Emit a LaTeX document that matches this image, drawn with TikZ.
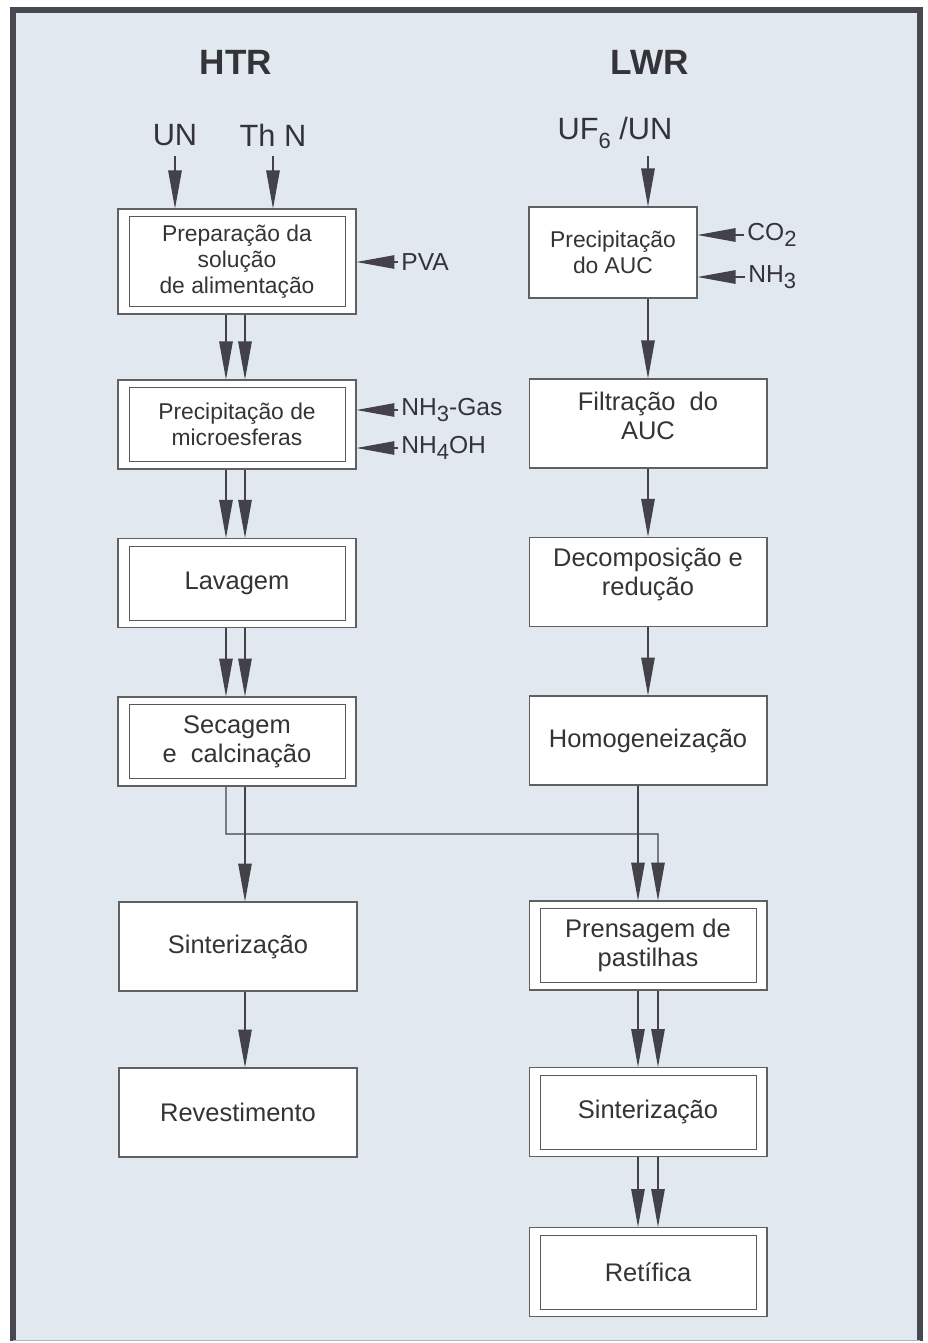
\documentclass[tikz,border=0pt]{standalone}
\usepackage{fontspec}
\setmainfont{Liberation Sans}
\usepackage{tikz}
\usetikzlibrary{calc, arrows.meta}
\definecolor{panel}{RGB}{225, 232, 240}
\definecolor{frameline}{RGB}{72, 72, 82}
\definecolor{ink}{RGB}{52, 52, 56}
\definecolor{wire}{RGB}{66, 66, 72}
\newcommand{\lowsub}[1]{\raisebox{-0.5ex}{\fontsize{12.5}{13}\selectfont #1}}

\begin{document}
\begin{tikzpicture}[x=0.02cm, y=-0.02cm,
  box/.style={draw=gray!75!black, line width=0.6pt, fill=white, minimum width=4.76cm,
    minimum height=1.78cm, align=center, text=ink, inner sep=0pt,
    font=\fontsize{14.5}{16.5}\selectfont},
  smallbox/.style={box, font=\fontsize{13}{15}\selectfont},
  inbox/.style={draw=gray!70!black, line width=0.5pt},
  flow/.style={draw=wire, line width=0.6pt, -{Triangle[length=0.76cm, width=0.27cm, fill=wire]}},
  title/.style={font=\fontsize{20}{22}\selectfont\bfseries, text=ink},
  feed/.style={font=\fontsize{17.5}{19}\selectfont, text=ink},
  agent/.style={font=\fontsize{14}{15}\selectfont, text=ink, anchor=west, inner sep=0pt}
]
  \useasboundingbox (0,0) rectangle (928,1343);
  % Panel
  \fill[panel] (13,10) rectangle (920,1340);
  \draw[frameline, line width=3pt] (13,1341) -- (13,10) -- (920,10) -- (920,1341);
  \draw[gray!60, line width=0.5pt] (13,1340) -- (920,1340);

  % Headings
  \node[title] (htr) at (236,62) {HTR};
  \node[title] (lwr) at (650,62) {LWR};
  \node[feed] (un) at (175,135) {UN};
  \node[feed] (thn) at (273,135) {Th N};
  \node[feed] (uf) at (615,133) {UF\lowsub{6} /UN};
  \coordinate (unin) at (175,156);
  \coordinate (thin) at (273,156);
  \coordinate (ufin) at (648,156);

  % HTR column
  \node[smallbox, minimum height=2.1cm] (prep) at (237,261.5) {Preparação da\\solução\\de alimentação};
  \node[smallbox] (micro) at (237,424.5) {Precipitação de\\microesferas};
  \node[box] (lav) at (237,583) {Lavagem};
  \node[box] (sec) at (237,741.5) {Secagem\\e\ \ calcinação};
  \node[box] (sinH) at (238,946.5) {Sinterização};
  \node[box] (rev) at (238,1112.5) {Revestimento};

  % LWR column
  \node[smallbox, minimum width=3.36cm, minimum height=1.82cm] (pauc) at (613,252.5) {Precipitação\\do AUC};
  \node[box] (filt) at (648,423.5) {Filtração\ \ do\\AUC\\[-8pt]\mbox{}};
  \node[box] (dec) at (648,582) {Decomposição e\\redução\\[-5pt]\mbox{}};
  \node[box] (homo) at (648,740.5) {Homogeneização};
  \node[box] (prens) at (648,945.5) {Prensagem de\\pastilhas};
  \node[box] (sinL) at (648,1112) {Sinterização};
  \node[box] (ret) at (648,1272) {Retífica};

  % Inner frames
  \foreach \b in {prep, micro, lav, sec, prens, sinL, ret} {
    \draw[inbox] ([shift={(12,8)}]\b.north west) rectangle ([shift={(-11,-8)}]\b.south east);
  }

  % Additives
  \node[agent] (pva) at (401,262) {PVA};
  \node[agent] (nhg) at (401,410) {NH\lowsub{3}-Gas};
  \node[agent] (nhoh) at (401,448) {NH\lowsub{4}OH};
  \node[agent] (co) at (747,235) {CO\lowsub{2}};
  \node[agent] (nh) at (748,277) {NH\lowsub{3}};
  \foreach \a/\b in {pva/prep, nhg/micro, nhoh/micro, co/pauc, nh/pauc} {
    \draw[flow] ([xshift=-0.06cm]\a.west) -- (\a.west -| \b.east);
  }

  % Feeds
  \draw[flow] (unin) -- (unin |- prep.north);
  \draw[flow] (thin) -- (thin |- prep.north);
  \draw[flow] (ufin) -- (ufin |- pauc.north);

  % HTR double lines
  \foreach \a/\b in {prep/micro, micro/lav, lav/sec} {
    \draw[flow] ([xshift=-0.22cm]\a.south) -- ([xshift=-0.22cm]\b.north);
    \draw[flow] ([xshift=0.16cm]\a.south) -- ([xshift=0.16cm]\b.north);
  }
  \coordinate (merge) at (658,834);
  \draw[flow] ([xshift=-0.22cm]sec.south) |- (merge) -- ([xshift=0.2cm]prens.north);
  \draw[flow] ([xshift=0.16cm]sec.south) -- ([xshift=0.14cm]sinH.north);
  \draw[flow] ([xshift=0.14cm]sinH.south) -- ([xshift=0.14cm]rev.north);

  % LWR lines
  \draw[flow] (filt.north |- pauc.south) -- (filt.north);
  \draw[flow] (filt.south) -- (dec.north);
  \draw[flow] (dec.south) -- (homo.north);
  \draw[flow] ([xshift=-0.2cm]homo.south) -- ([xshift=-0.2cm]prens.north);
  \foreach \a/\b in {prens/sinL, sinL/ret} {
    \draw[flow] ([xshift=-0.2cm]\a.south) -- ([xshift=-0.2cm]\b.north);
    \draw[flow] ([xshift=0.2cm]\a.south) -- ([xshift=0.2cm]\b.north);
  }
\end{tikzpicture}
\end{document}
